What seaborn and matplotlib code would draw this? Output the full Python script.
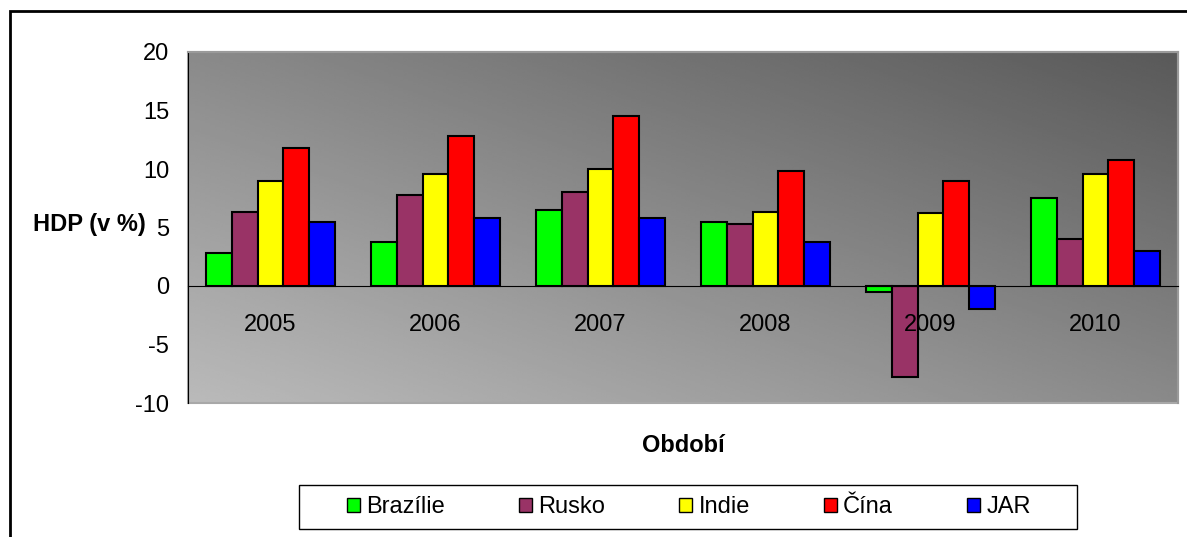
import numpy as np
import pandas as pd
import seaborn as sns
import matplotlib.pyplot as plt
from matplotlib.patches import Patch, Rectangle

years = ["2005", "2006", "2007", "2008", "2009", "2010"]
countries = ["Brazílie", "Rusko", "Indie", "Čína", "JAR"]
brazilie = [2.8, 3.8, 6.5, 5.5, -0.5, 7.5]
rusko = [6.3, 7.8, 8.0, 5.3, -7.8, 4.0]
indie = [9.0, 9.6, 10.0, 6.3, 6.2, 9.6]
cina = [11.8, 12.8, 14.5, 9.8, 9.0, 10.8]
jar = [5.5, 5.8, 5.8, 3.8, -2.0, 3.0]
colors = ["#00ff00", "#993366", "#ffff00", "#ff0000", "#0000ff"]

df = pd.DataFrame({"Brazílie": brazilie, "Rusko": rusko, "Indie": indie,
                   "Čína": cina, "JAR": jar}, index=years)
long = df.reset_index(names="rok").melt(id_vars="rok", var_name="zeme", value_name="hdp")

sns.set_style("white")
plt.rcParams["font.family"] = ["Liberation Sans", "DejaVu Sans"]
plt.rcParams["axes.unicode_minus"] = False
plt.rcParams["text.color"] = "black"
plt.rcParams["xtick.color"] = "black"
plt.rcParams["ytick.color"] = "black"

fig = plt.figure(figsize=(11.87, 5.37), dpi=100)
ax = fig.add_axes([188 / 1187, 1 - 403 / 537, 990 / 1187, 351 / 537])

# gradient background of the plot area
gx, gy = np.meshgrid(np.linspace(0, 1, 200), np.linspace(0, 1, 200))
grad = 0.73 - 0.19 * gx - 0.19 * (1 - gy)
ax.imshow(grad, cmap="gray", vmin=0, vmax=1, extent=(-0.5, 5.5, -10, 20),
          aspect="auto", zorder=0, interpolation="bilinear")

sns.barplot(data=long, x="rok", y="hdp", hue="zeme", palette=colors,
            saturation=1, width=0.78, gap=0, edgecolor="black", linewidth=1.5,
            legend=False, ax=ax)
ax.set_axisbelow(False)  # year labels are drawn over the bars

ax.set_xlim(-0.5, 5.5)
ax.set_ylim(-10, 20)
ax.set_yticks([-10, -5, 0, 5, 10, 15, 20])
ax.tick_params(axis="y", length=5, width=1, color="black", labelsize=17, pad=8.5,
               labelcolor="black")
ax.set_xticks(range(6))
ax.set_xticks(np.arange(-0.5, 6, 1), minor=True)
ax.tick_params(axis="x", which="major", length=0, labelsize=17, pad=20, labelcolor="black")
ax.tick_params(axis="x", which="minor", length=7, width=1, color="black", direction="out")
ax.set_xlabel("")
ax.set_ylabel("")

ax.spines["bottom"].set_position(("data", 0))
ax.spines["bottom"].set_color("black")
ax.spines["left"].set_color("black")
for s in ["top", "right"]:
    ax.spines[s].set_color("#9a9a9a")
    ax.spines[s].set_linewidth(1.5)
ax.add_patch(Rectangle((0, 0), 1, 1, transform=ax.transAxes, fill=False,
                       edgecolor="#a8a8a8", linewidth=1.5, zorder=0.5, clip_on=False))

fig.text(33 / 1187, 1 - 225 / 537, "HDP (v %)", fontsize=17, fontweight="bold",
         ha="left", va="center")
fig.text(683 / 1187, 1 - 445 / 537, "Období", fontsize=17, fontweight="bold",
         ha="center", va="center")

handles = [Patch(facecolor=c, edgecolor="black", linewidth=1) for c in colors]
fig.legend(handles, countries, loc="center", bbox_to_anchor=(689 / 1187, 1 - 507 / 537),
           ncol=5, fontsize=17, frameon=False, handlelength=0.55,
           handleheight=0.55, handletextpad=0.25, columnspacing=3.15)
# legend box
fig.patches.append(Rectangle((299 / 1187, 1 - 529 / 537), 778 / 1187, 44 / 537,
                             transform=fig.transFigure, fill=False,
                             edgecolor="black", linewidth=1))

# outer chart frame
fig.patches.append(Rectangle((10 / 1187, -0.2), 1.2, 1.2 - 11 / 537,
                             transform=fig.transFigure, fill=False,
                             edgecolor="black", linewidth=2))

fig.savefig("out.png", dpi=100)
